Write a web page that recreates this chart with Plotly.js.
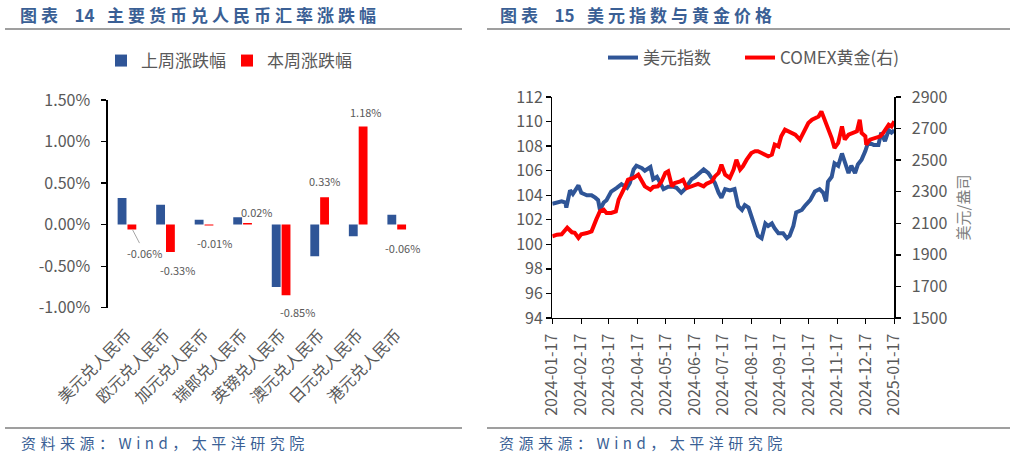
<!DOCTYPE html>
<html><head><meta charset="utf-8">
<script src="https://cdn.plot.ly/plotly-3.0.1.min.js"></script>
<style>
html,body{margin:0;padding:0;background:#fff;}
#chart{width:1021px;height:461px;}
g.annotation[data-index="0"] text, g.annotation[data-index="1"] text{letter-spacing:4px;}
g.annotation[data-index="2"] text, g.annotation[data-index="3"] text{letter-spacing:4.5px;}
</style>
</head><body><div id="chart"></div>
<script>
// ---- data: chart 14 ----
const currencies = ['美元兑人民币','欧元兑人民币','加元兑人民币','瑞郎兑人民币','英镑兑人民币','澳元兑人民币','日元兑人民币','港元兑人民币'];
const lastWeekChange = [0.32,0.24,0.06,0.09,-0.75,-0.38,-0.14,0.12];
const thisWeekChange = [-0.06,-0.33,-0.01,0.02,-0.85,0.33,1.18,-0.06];
const pctTicks = [-1,-0.5,0,0.5,1,1.5];

// ---- data: chart 15 ----
const usdDates = ['2024-01-17','2024-01-22','2024-01-27','2024-01-31','2024-02-01','2024-02-05','2024-02-08','2024-02-14','2024-02-17','2024-02-23',
'2024-02-28','2024-03-03','2024-03-06','2024-03-08','2024-03-12','2024-03-15','2024-03-20','2024-03-26','2024-03-31','2024-04-06',
'2024-04-09','2024-04-13','2024-04-16','2024-04-22','2024-04-25','2024-05-01','2024-05-04','2024-05-08','2024-05-11','2024-05-15',
'2024-05-20','2024-05-25','2024-05-29','2024-06-03','2024-06-07','2024-06-11','2024-06-14','2024-06-18','2024-06-21','2024-06-27',
'2024-07-02','2024-07-06','2024-07-09','2024-07-13','2024-07-16','2024-07-20','2024-07-25','2024-07-30','2024-08-03','2024-08-07',
'2024-08-10','2024-08-14','2024-08-17','2024-08-21','2024-08-24','2024-08-28','2024-09-01','2024-09-04','2024-09-08','2024-09-11',
'2024-09-15','2024-09-20','2024-09-24','2024-09-27','2024-10-01','2024-10-04','2024-10-10','2024-10-13','2024-10-19','2024-10-24',
'2024-10-29','2024-11-02','2024-11-05','2024-11-07','2024-11-11','2024-11-14','2024-11-18','2024-11-22','2024-11-25','2024-11-29',
'2024-12-02','2024-12-06','2024-12-09','2024-12-13','2024-12-17','2024-12-20','2024-12-26','2024-12-31','2025-01-03','2025-01-07',
'2025-01-11','2025-01-14','2025-01-17'];
const usdIndex = [103.3,103.4,103.5,103.4,103.0,104.4,104.1,104.8,104.2,104.0,
104.0,103.8,103.6,102.8,103.4,103.6,104.3,104.6,104.9,104.6,
105.0,106.1,106.4,106.2,106.0,106.3,105.3,105.5,105.0,104.5,
104.7,104.7,104.6,104.2,104.5,105.0,105.3,105.5,105.7,106.1,
105.8,105.3,105.0,104.2,103.8,104.5,104.4,104.5,103.1,102.8,
103.2,103.0,102.3,101.5,100.7,100.5,101.7,101.5,101.7,101.3,
100.9,100.9,100.5,100.7,101.5,102.6,102.8,103.1,103.6,104.3,
104.5,104.2,103.5,105.1,105.5,106.6,106.4,107.4,106.6,105.8,
106.4,105.8,106.5,106.9,107.6,108.3,108.1,108.1,109.1,108.4,
109.3,109.1,109.3];
const goldDates = ['2024-01-17','2024-01-22','2024-01-27','2024-01-31','2024-02-02','2024-02-07','2024-02-10','2024-02-14','2024-02-17','2024-02-23',
'2024-02-28','2024-03-04','2024-03-08','2024-03-12','2024-03-15','2024-03-20','2024-03-25','2024-03-28','2024-03-31','2024-04-04',
'2024-04-07','2024-04-13','2024-04-18','2024-04-22','2024-04-25','2024-05-01','2024-05-04','2024-05-09','2024-05-13','2024-05-17',
'2024-05-20','2024-05-24','2024-05-27','2024-06-02','2024-06-05','2024-06-09','2024-06-12','2024-06-18','2024-06-21','2024-06-27',
'2024-06-30','2024-07-06','2024-07-09','2024-07-13','2024-07-16','2024-07-20','2024-07-25','2024-07-29','2024-08-01','2024-08-05',
'2024-08-08','2024-08-12','2024-08-17','2024-08-21','2024-08-24','2024-08-28','2024-09-01','2024-09-04','2024-09-08','2024-09-11',
'2024-09-15','2024-09-18','2024-09-22','2024-09-27','2024-10-03','2024-10-08','2024-10-13','2024-10-17','2024-10-21','2024-10-24',
'2024-10-28','2024-10-31','2024-11-04','2024-11-07','2024-11-11','2024-11-14','2024-11-18','2024-11-22','2024-11-25','2024-11-29',
'2024-12-04','2024-12-08','2024-12-11','2024-12-13','2024-12-17','2024-12-18','2024-12-22','2024-12-27','2025-01-02','2025-01-05',
'2025-01-11','2025-01-14','2025-01-17'];
const goldPrice = [2017,2028,2030,2060,2072,2043,2040,2007,2030,2038,
2049,2123,2176,2186,2165,2165,2175,2250,2281,2334,
2376,2387,2408,2366,2334,2313,2330,2334,2366,2419,
2429,2334,2355,2366,2376,2323,2330,2345,2350,2334,
2350,2366,2397,2419,2471,2408,2387,2440,2503,2440,
2461,2503,2545,2556,2556,2545,2535,2524,2535,2598,
2587,2651,2693,2676,2661,2630,2683,2735,2756,2767,
2777,2809,2746,2714,2640,2577,2609,2714,2630,2661,
2672,2683,2756,2672,2651,2598,2630,2640,2651,2672,
2725,2714,2746];
const xTickDates = ['2024-01-17','2024-02-17','2024-03-17','2024-04-17','2024-05-17','2024-06-17','2024-07-17','2024-08-17','2024-09-17','2024-10-17','2024-11-17','2024-12-17','2025-01-17'];

// ---- styling ----
const W = 1021, H = 461;
const px = v => v / W, py = v => 1 - v / H;
const gray = '#595959';
const blue = '#2F5597';
const titleBlue = '#3A5F95';
const FONT = '"Noto Sans CJK SC", "Noto Sans", sans-serif';
const redBarShift = 5.5;
const SP = '\u2002';
// label offsets (px): [dx, dy(up)]
const labelOffsets = [[12,-23],[6,-18],[5,-18],[9,11],[11,-17],[0,16],[2,15],[0,-18]];

const traces = [
  {type:'bar', name:'上周涨跌幅', x:currencies, y:lastWeekChange, marker:{color:blue}, xaxis:'x', yaxis:'y', legend:'legend', hoverinfo:'skip'},
  {type:'bar', name:'本周涨跌幅', x:currencies, y:thisWeekChange, marker:{color:'#FF0000'}, xaxis:'x', yaxis:'y', legend:'legend2', hoverinfo:'skip'},
  {type:'scatter', mode:'lines', name:'美元指数', x:usdDates, y:usdIndex, xaxis:'x2', yaxis:'y2', line:{color:blue, width:4}, legend:'legend3', hoverinfo:'skip'},
  {type:'scatter', mode:'lines', name:'COMEX黄金(右)', x:goldDates, y:goldPrice, xaxis:'x2', yaxis:'y3', line:{color:'#FF0000', width:4}, legend:'legend4', hoverinfo:'skip'}
];

const annotations = [
  {text:'图表' + SP + '<span style="letter-spacing:0px">14</span>' + SP + '主要货币兑人民币汇率涨跌幅', x:px(18), y:py(15), font:{size:17, color:titleBlue, weight:700}},
  {text:'图表' + SP + '<span style="letter-spacing:0px">15</span>' + SP + '美元指数与黄金价格', x:px(498), y:py(15), font:{size:17, color:titleBlue, weight:700}},
  {text:'资料来源：Wind，太平洋研究院', x:px(19), y:py(442), font:{size:15, color:titleBlue}},
  {text:'资源来源：Wind，太平洋研究院', x:px(497), y:py(442), font:{size:15, color:titleBlue}}
].map(a => Object.assign({xref:'paper', yref:'paper', xanchor:'left', yanchor:'middle', align:'left', showarrow:false}, a));

thisWeekChange.forEach((v, i) => {
  const [dx, dy] = labelOffsets[i];
  const base = {xref:'x', yref:'y', x:currencies[i], y:v, text:v.toFixed(2)+'%', font:{size:11, color:gray}};
  if (i === 0) {
    annotations.push(Object.assign(base, {showarrow:true, arrowhead:0, arrowwidth:1, arrowcolor:'#A6A6A6', xshift:redBarShift, ax:dx, ay:-dy, standoff:0}));
  } else {
    annotations.push(Object.assign(base, {showarrow:false, xshift:redBarShift+dx, yshift:dy}));
  }
});

const lineShape = (x0, x1, y) => ({type:'line', xref:'paper', yref:'paper', x0:px(x0), x1:px(x1), y0:py(y), y1:py(y), line:{color:'#7F7F7F', width:1.5}});

const axisBase = {showline:true, linecolor:'#000', linewidth:1.3, ticks:'outside', ticklen:5, tickwidth:1.3, tickcolor:'#000', showgrid:false, zeroline:false, fixedrange:true, tickfont:{size:16, color:gray}};
const legendBase = {orientation:'h', xanchor:'left', yanchor:'top', font:{size:17, color:gray}, bgcolor:'rgba(0,0,0,0)'};

const layout = {
  width:W, height:H, margin:{l:0, r:0, t:0, b:0},
  paper_bgcolor:'#fff', plot_bgcolor:'rgba(0,0,0,0)',
  font:{family:FONT, color:gray, size:16},
  barmode:'group', bargap:0.49, bargroupgap:0.1,
  showlegend:true,
  legend:Object.assign({}, legendBase, {x:px(101), y:py(43)}),
  legend2:Object.assign({}, legendBase, {x:px(227), y:py(43)}),
  legend3:Object.assign({}, legendBase, {x:px(603), y:py(40)}),
  legend4:Object.assign({}, legendBase, {x:px(740), y:py(40)}),
  xaxis:Object.assign({}, axisBase, {domain:[px(107.7), px(416)], anchor:'y', type:'category', range:[-0.5,7.5], showline:false, ticks:'', tickangle:-45, ticklabelstandoff:14}),
  xaxis3:Object.assign({}, axisBase, {overlaying:'x', anchor:'free', position:py(224), type:'linear', range:[-0.5,7.5], tickvals:[0.5,1.5,2.5,3.5,4.5,5.5,6.5,7.5], showticklabels:false}),
  yaxis:Object.assign({}, axisBase, {domain:[py(307.7), py(100)], anchor:'x', range:[-1,1.5], tickvals:pctTicks, ticktext:pctTicks.map(v => v.toFixed(2)+'%'), ticklabelstandoff:8}),
  xaxis2:Object.assign({}, axisBase, {domain:[px(552.3), px(894.3)], anchor:'y2', type:'date', range:['2024-01-17','2025-01-17'], tickvals:xTickDates, ticktext:xTickDates, tickangle:-90, ticklabelstandoff:3}),
  yaxis2:Object.assign({}, axisBase, {domain:[py(318), py(97)], anchor:'x2', range:[94,112], dtick:2, tick0:94}),
  yaxis3:Object.assign({}, axisBase, {overlaying:'y2', side:'right', anchor:'x2', range:[1500,2900], dtick:200, tick0:1500, ticklabelstandoff:8,
    title:{text:'美元/盎司', font:{size:15, color:'#7F7F7F'}, standoff:12}}),
  annotations:annotations,
  shapes:[lineShape(5,462,29), lineShape(487,1010,29), lineShape(5,462,428), lineShape(487,1010,428)]
};

Plotly.newPlot('chart', traces, layout, {staticPlot:true, displayModeBar:false});
</script>
</body></html>
